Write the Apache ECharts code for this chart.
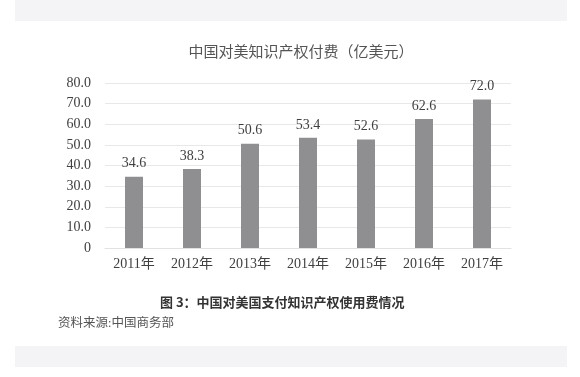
<!DOCTYPE html>
<html>
<head>
<meta charset="utf-8">
<script src="https://cdn.jsdelivr.net/npm/echarts@6/dist/echarts.min.js"></script>
<style>
html,body{margin:0;padding:0;background:#fff;}
#chart{width:580px;height:377px;}
</style>
</head>
<body>
<div id="chart"></div>
<script>
var categories = ['2011年','2012年','2013年','2014年','2015年','2016年','2017年'];
var values = [34.6, 38.3, 50.6, 53.4, 52.6, 62.6, 72.0];
var yTicks = ['0','10.0','20.0','30.0','40.0','50.0','60.0','70.0','80.0'];
var chartTitle = '中国对美知识产权付费（亿美元）';
var caption = '图 3：中国对美国支付知识产权使用费情况';
var source = '资料来源:中国商务部';

var serif = '"Liberation Serif", "Noto Sans CJK SC", serif';
var chart = echarts.init(document.getElementById('chart'), null, {renderer:'canvas'});
chart.setOption({
  backgroundColor: '#ffffff',
  animation: false,
  title: [
    {text: chartTitle, left: 296, top: 41, textAlign: 'center',
     textStyle: {fontFamily: serif, fontSize: 15, fontWeight: 'normal', color: '#555555'}},
    {text: caption, left: 155, top: 291,
     textStyle: {fontFamily: '"Noto Sans CJK SC", sans-serif', fontSize: 13, fontWeight: 'bold', color: '#333333'}},
    {text: source, left: 53, top: 312,
     textStyle: {fontFamily: serif, fontSize: 12.5, fontWeight: 'normal', color: '#555555'}}
  ],
  graphic: [
    {type:'rect', shape:{x:15, y:0, width:552, height:21}, style:{fill:'#f4f4f6'}, z:-1},
    {type:'rect', shape:{x:15, y:346, width:552, height:21}, style:{fill:'#f4f4f6'}, z:-1}
  ],
  grid: {left: 105, right: 69, top: 83, bottom: 129, containLabel: false},
  xAxis: {
    type: 'category',
    data: categories,
    axisLine: {show: true, lineStyle: {color: '#e2e2e2', width: 1}},
    axisTick: {show: false},
    axisLabel: {fontFamily: serif, fontSize: 14, color: '#404040', margin: 9}
  },
  yAxis: {
    type: 'value',
    min: 0, max: 80, interval: 10,
    axisLine: {show: false},
    axisTick: {show: false},
    splitLine: {lineStyle: {color: '#e8e8e8', width: 1}},
    axisLabel: {fontFamily: serif, fontSize: 14, color: '#404040', margin: 14,
      formatter: function(v){ return yTicks[Math.round(v/10)]; }}
  },
  series: [{
    type: 'bar',
    data: values,
    barWidth: 18,
    itemStyle: {color: '#8f8f91'},
    label: {show: true, position: 'top', distance: 6, fontFamily: serif, fontSize: 14, color: '#404040',
      formatter: function(p){ return p.value.toFixed(1); }}
  }]
});
</script>
</body>
</html>
